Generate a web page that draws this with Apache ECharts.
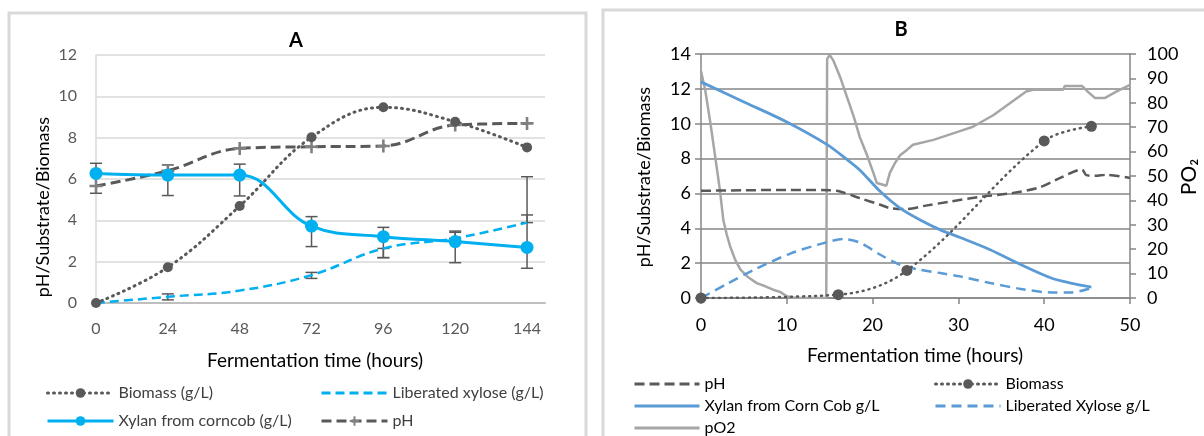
<!DOCTYPE html>
<html><head><meta charset="utf-8">
<script src="https://cdn.jsdelivr.net/npm/echarts@6/dist/echarts.min.js"></script>
<style>html,body{margin:0;padding:0;background:#fff}#c{width:1204px;height:436px}</style>
</head><body><div id="c"></div><script>
// ---------- Panel A (values at each sampling hour) ----------
const hoursA = [0, 24, 48, 72, 96, 120, 144];
const biomassA = [0, 1.73, 4.69, 8.02, 9.47, 8.77, 7.53];
const xylanA = [6.27, 6.19, 6.19, 3.72, 3.21, 2.97, 2.69];
const xyloseA = [0, 0.3, 0.6, 1.35, 2.64, 3.13, 3.89];
const phA = [5.66, 6.4, 7.48, 7.56, 7.6, 8.61, 8.69];
// error bars: [hour, low, high]
const errorBarsA = [[0, 5.31, 6.76], [24, 5.2, 6.68], [24, 0.15, 0.44], [48, 5.18, 6.72],
  [72, 2.73, 4.18], [72, 1.19, 1.48], [96, 2.2, 3.66], [96, 2.19, 2.64],
  [120, 1.95, 3.48], [120, 3.13, 3.42], [144, 1.68, 6.11], [144, 3.89, 4.26]];

// ---------- Panel B ([hour, value]) ----------
const phB = [[0, 6.15], [5, 6.18], [10, 6.2], [15, 6.18], [16.2, 6.11], [18.5, 5.73], [20.9, 5.35], [22, 5.16],
  [23.9, 5.1], [26.2, 5.3], [28.9, 5.52], [32.5, 5.8], [36, 6.0], [39.5, 6.35], [41.8, 6.88], [44.4, 7.37],
  [44.9, 7.05], [45.9, 7.01], [47.3, 7.07], [50, 6.88]];
const biomassB = [[0, 0], [16, 0.19], [24, 1.58], [40, 9.01], [45.5, 9.85]];
const xylanB = [[0, 12.4], [5, 11.25], [10, 10.1], [14.7, 8.8], [17, 7.95], [18.5, 7.35], [20.9, 6.11],
  [23.2, 5.16], [25.5, 4.49], [27.9, 3.91], [30.2, 3.47], [33.7, 2.77], [37.3, 1.91], [40.8, 1.15],
  [43.1, 0.86], [45.5, 0.63]];
const xyloseB = [[0, 0], [3, 0.8], [6.3, 1.65], [10.4, 2.55], [14.3, 3.15], [16.6, 3.38], [18.5, 3.18],
  [20.9, 2.48], [23.2, 1.91], [25.5, 1.62], [27.9, 1.43], [30.2, 1.24], [33.7, 0.86], [37.3, 0.52],
  [40.8, 0.32], [43.1, 0.32], [45.5, 0.57]];
const po2B = [[0, 93], [0.5, 85], [1.1, 71.6], [1.65, 58], [2.2, 44.3], [2.6, 32], [3, 26], [3.4, 21.1],
  [4, 15.5], [4.6, 11.6], [5.5, 8.5], [6.5, 6.1], [7.5, 4.8], [8.4, 3.4], [9.2, 2.5], [10, 0.7], [10.6, 0.2],
  [11.2, 0], [14.6, 0], [14.7, 98], [15, 99.6], [15.4, 97.5], [16.2, 90.7], [17, 82.5], [17.8, 74.3],
  [18.5, 66], [19.3, 59], [20.1, 51.2], [20.5, 47.1], [21.6, 46], [22, 51.2], [22.6, 55.3], [23.2, 58.5],
  [24, 60.7], [24.7, 62.8], [27.1, 64.8], [30, 68.2], [31.7, 70.2], [34.1, 75], [36, 79.8], [37.9, 84.6],
  [38.7, 85.3], [42.2, 85.3], [42.4, 86.9], [44.4, 86.9], [45.1, 84.5], [45.9, 82], [47.1, 82],
  [48.4, 84.6], [50, 87.3]];

const FONT = 'Lato, "Open Sans", sans-serif';
const pair = (xs, ys) => xs.map((x, i) => [x, ys[i]]);
const dash = [10, 5];
const dots = [1, 5];
const noSym = { color: 'rgba(0,0,0,0)', borderWidth: 0 };

const chart = echarts.init(document.getElementById('c'));
chart.setOption({
  backgroundColor: '#fff',
  animation: false,
  textStyle: { fontFamily: FONT },
  grid: [
    { left: 96, top: 55, width: 449, height: 248 },
    { left: 701, top: 54, width: 429, height: 244 }
  ],
  xAxis: [
    { gridIndex: 0, type: 'value', min: 0, max: 150, interval: 24,
      axisLine: { show: true, lineStyle: { color: '#bfbfbf', width: 2 } },
      axisTick: { show: false }, splitLine: { show: false },
      axisLabel: { fontSize: 16, color: '#595959', margin: 18, showMaxLabel: false, fontFamily: FONT } },
    { gridIndex: 1, type: 'value', min: 0, max: 50, interval: 10,
      axisLine: { show: true, lineStyle: { color: '#868686', width: 1.5 } },
      axisTick: { show: true, length: 6, lineStyle: { color: '#868686', width: 1.5 } },
      splitLine: { show: false },
      axisLabel: { fontSize: 18, color: '#000', margin: 18, fontFamily: FONT } }
  ],
  yAxis: [
    { gridIndex: 0, type: 'value', min: 0, max: 12, interval: 2,
      axisLine: { show: true, lineStyle: { color: '#d9d9d9', width: 1.5 } },
      axisTick: { show: false },
      splitLine: { show: true, lineStyle: { color: '#d9d9d9', width: 1.5 } },
      axisLabel: { fontSize: 16, color: '#595959', margin: 19, fontFamily: FONT } },
    { gridIndex: 1, type: 'value', min: 0, max: 14, interval: 2,
      axisLine: { show: true, lineStyle: { color: '#868686', width: 1.5 } },
      axisTick: { show: true, length: 6, lineStyle: { color: '#868686', width: 1.5 } },
      splitLine: { show: true, lineStyle: { color: '#868686', width: 1.5 } },
      axisLabel: { fontSize: 18, color: '#000', margin: 10, fontFamily: FONT } },
    { gridIndex: 1, type: 'value', position: 'right', min: 0, max: 100, interval: 10,
      axisLine: { show: true, lineStyle: { color: '#868686', width: 1.5 } },
      axisTick: { show: true, length: 6, lineStyle: { color: '#868686', width: 1.5 } },
      splitLine: { show: false },
      axisLabel: { fontSize: 18, color: '#000', margin: 17, fontFamily: FONT } }
  ],
  legend: [
    { left: 46, top: 385, orient: 'vertical', itemWidth: 66, itemHeight: 12, itemGap: 12, padding: 0,
      lineStyle: { width: 3 },
      textStyle: { fontSize: 16, color: '#404040', fontFamily: FONT },
      data: ['Biomass (g/L)', 'Xylan from corncob (g/L)'] },
    { left: 320, top: 385, orient: 'vertical', itemWidth: 66, itemHeight: 12, itemGap: 12, padding: 0,
      lineStyle: { width: 3 },
      textStyle: { fontSize: 16, color: '#404040', fontFamily: FONT },
      data: [{ name: 'Liberated xylose (g/L)', itemStyle: noSym }, 'pH'] },
    { left: 633, top: 376, orient: 'vertical', itemWidth: 65, itemHeight: 12, itemGap: 6, padding: 0,
      lineStyle: { width: 3 },
      textStyle: { fontSize: 16, color: '#000', fontFamily: FONT },
      formatter: n => n.trim(),
      data: [{ name: 'pH ', itemStyle: noSym }, { name: 'Xylan from Corn Cob g/L', itemStyle: noSym },
        { name: 'pO2', itemStyle: noSym }] },
    { left: 934, top: 376, orient: 'vertical', itemWidth: 65, itemHeight: 12, itemGap: 6, padding: 0,
      lineStyle: { width: 3 },
      textStyle: { fontSize: 16, color: '#000', fontFamily: FONT },
      data: ['Biomass', { name: 'Liberated Xylose g/L', itemStyle: noSym }] }
  ],
  graphic: [
    { type: 'rect', shape: { x: 9, y: 13, width: 577, height: 440 }, style: { fill: 'none', stroke: '#d9d9d9', lineWidth: 3 }, silent: true },
    { type: 'rect', shape: { x: 603, y: 10, width: 620, height: 440 }, style: { fill: 'none', stroke: '#d9d9d9', lineWidth: 3 }, silent: true },
    { type: 'text', x: 296, y: 41, style: { text: 'A', font: 'bold 20px ' + FONT, fill: '#000', align: 'center', verticalAlign: 'middle' } },
    { type: 'text', x: 901, y: 30, style: { text: 'B', font: 'bold 20px ' + FONT, fill: '#000', align: 'center', verticalAlign: 'middle' } },
    { type: 'text', x: 315, y: 361, style: { text: 'Fermentation time (hours)', font: '19px ' + FONT, fill: '#000', align: 'center', verticalAlign: 'middle' } },
    { type: 'text', x: 915, y: 356, style: { text: 'Fermentation time (hours)', font: '19px ' + FONT, fill: '#000', align: 'center', verticalAlign: 'middle' } },
    { type: 'text', x: 43, y: 207, rotation: Math.PI / 2, style: { text: 'pH/Substrate/Biomass', font: '18px ' + FONT, fill: '#000', align: 'center', verticalAlign: 'middle' } },
    { type: 'text', x: 644, y: 177, rotation: Math.PI / 2, style: { text: 'pH/Substrate/Biomass', font: '18px ' + FONT, fill: '#000', align: 'center', verticalAlign: 'middle' } },
    { type: 'text', x: 1189, y: 177, rotation: Math.PI / 2, style: { text: 'PO₂', font: '21px ' + FONT, fill: '#000', align: 'center', verticalAlign: 'middle' } }
  ],
  series: [
    // ----- Panel A -----
    { name: 'Liberated xylose (g/L)', type: 'line', xAxisIndex: 0, yAxisIndex: 0, smooth: 0.4,
      data: pair(hoursA, xyloseA), symbol: 'none',
      lineStyle: { color: '#00b0f0', width: 2.5, type: [9, 5] }, itemStyle: { color: '#00b0f0' } },
    { name: 'pH', type: 'line', xAxisIndex: 0, yAxisIndex: 0, smooth: 0.4,
      data: pair(hoursA, phA), symbol: 'path://M4,0h2v4h4v2h-4v4h-2v-4h-4v-2h4z', symbolSize: 13,
      lineStyle: { color: '#595959', width: 3, type: dash }, itemStyle: { color: '#808080' } },
    { name: 'Biomass (g/L)', type: 'line', xAxisIndex: 0, yAxisIndex: 0, smooth: 0.4,
      data: pair(hoursA, biomassA), symbol: 'circle', symbolSize: 10,
      lineStyle: { color: '#595959', width: 3, type: dots, cap: 'round' }, itemStyle: { color: '#595959' } },
    { name: 'errA', type: 'custom', xAxisIndex: 0, yAxisIndex: 0, data: errorBarsA, z: 3,
      encode: { x: 0, y: [1, 2] },
      renderItem: (params, api) => {
        const x = api.value(0);
        const p1 = api.coord([x, api.value(1)]), p2 = api.coord([x, api.value(2)]);
        const w = 6, st = { stroke: '#595959', lineWidth: 1.5 };
        return { type: 'group', children: [
          { type: 'line', shape: { x1: p1[0], y1: p1[1], x2: p2[0], y2: p2[1] }, style: st },
          { type: 'line', shape: { x1: p1[0] - w, y1: p1[1], x2: p1[0] + w, y2: p1[1] }, style: st },
          { type: 'line', shape: { x1: p2[0] - w, y1: p2[1], x2: p2[0] + w, y2: p2[1] }, style: st }
        ] };
      } },
    { name: 'Xylan from corncob (g/L)', type: 'line', xAxisIndex: 0, yAxisIndex: 0, smooth: 0.4, z: 4,
      data: pair(hoursA, xylanA), symbol: 'circle', symbolSize: 13,
      lineStyle: { color: '#00b0f0', width: 3 }, itemStyle: { color: '#00b0f0' } },
    // ----- Panel B -----
    { name: 'pO2', type: 'line', xAxisIndex: 1, yAxisIndex: 2, data: po2B, symbol: 'none',
      lineStyle: { color: '#a6a6a6', width: 2.5 }, itemStyle: { color: '#a6a6a6' } },
    { name: 'pH ', type: 'line', xAxisIndex: 1, yAxisIndex: 1, data: phB, symbol: 'none', smooth: 0.3,
      lineStyle: { color: '#595959', width: 2.5, type: dash }, itemStyle: { color: '#595959' } },
    { name: 'Liberated Xylose g/L', type: 'line', xAxisIndex: 1, yAxisIndex: 1, data: xyloseB, symbol: 'none', smooth: 0.3,
      lineStyle: { color: '#5b9bd5', width: 2.5, type: [10, 6] }, itemStyle: { color: '#5b9bd5' } },
    { name: 'Xylan from Corn Cob g/L', type: 'line', xAxisIndex: 1, yAxisIndex: 1, data: xylanB, symbol: 'none', smooth: 0.3,
      lineStyle: { color: '#5b9bd5', width: 2.8 }, itemStyle: { color: '#5b9bd5' } },
    { name: 'Biomass', type: 'line', xAxisIndex: 1, yAxisIndex: 1, data: biomassB, symbol: 'circle', symbolSize: 11, smooth: 0.35,
      lineStyle: { color: '#595959', width: 2.5, type: dots, cap: 'round' }, itemStyle: { color: '#595959' } }
  ]
});
</script></body></html>
